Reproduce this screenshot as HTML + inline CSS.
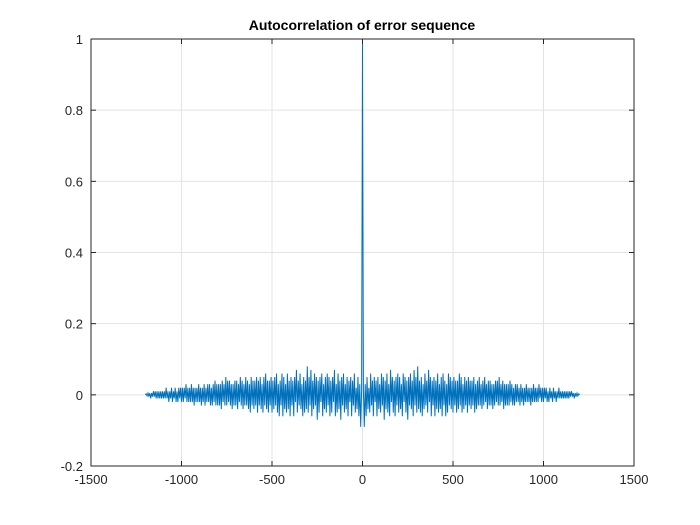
<!DOCTYPE html>
<html><head><meta charset="utf-8"><style>
body{margin:0;background:#fff;}
svg{display:block;font-family:"Liberation Sans",Arial,sans-serif;}
</style></head><body>
<svg id="chart" width="700" height="525">
<rect width="700" height="525" fill="#fff"/>
<g id="grid"></g>
<g id="series"></g>
<rect x="91" y="39" width="543" height="427" fill="none" stroke="#262626" stroke-width="1"/>
<g id="ticks"></g>
<text x="362" y="30" text-anchor="middle" font-size="14" font-weight="bold" fill="#000">Autocorrelation of error sequence</text>
</svg>
<script>
const xTicks=[-1500,-1000,-500,0,500,1000,1500];
const yTicks=[-0.2,0,0.2,0.4,0.6,0.8,1];
const yTickLabels=["-0.2","0","0.2","0.4","0.6","0.8","1"];
const lagStep=5;
const peakValue=1;
const halfValues=[
0.01,-0.09,0.03,-0.06,0.05,-0.04,0.02,-0.05,0.06,-0.03,
0.04,-0.06,0.05,-0.02,0.04,-0.06,0.05,-0.04,0.03,-0.05,
0.06,-0.03,0.05,-0.07,0.04,-0.04,0.06,-0.05,0.03,-0.06,
0.07,-0.02,0.05,-0.05,0.04,-0.06,0.05,-0.03,0.06,-0.05,
0.05,-0.04,0.03,-0.06,0.06,-0.02,0.05,-0.05,0.04,-0.07,
0.05,-0.03,0.06,-0.04,0.04,-0.06,0.07,-0.03,0.05,-0.05,
0.08,-0.04,0.04,-0.05,0.05,-0.06,0.03,-0.04,0.06,-0.03,
0.04,-0.05,0.07,-0.02,0.05,-0.06,0.04,-0.03,0.05,-0.06,
0.04,-0.04,0.06,-0.05,0.03,-0.04,0.05,-0.06,0.06,-0.03,
0.04,-0.06,0.03,-0.05,0.06,-0.03,0.05,-0.04,0.04,-0.05,
0.05,-0.03,0.04,-0.05,0.04,-0.04,0.06,-0.03,0.05,-0.05,
0.03,-0.04,0.05,-0.03,0.04,-0.05,0.05,-0.03,0.04,-0.04,
0.04,-0.03,0.05,-0.05,0.03,-0.04,0.04,-0.03,0.05,-0.03,
0.03,-0.04,0.04,-0.03,0.05,-0.02,0.03,-0.04,0.04,-0.03,
0.04,-0.03,0.03,-0.04,0.03,-0.03,0.04,-0.02,0.04,-0.03,
0.05,-0.03,0.03,-0.02,0.04,-0.04,0.03,-0.03,0.03,-0.03,
0.03,-0.03,0.04,-0.02,0.03,-0.03,0.02,-0.03,0.03,-0.02,
0.03,-0.02,0.02,-0.03,0.03,-0.02,0.02,-0.03,0.02,-0.02,
0.03,-0.02,0.02,-0.02,0.02,-0.03,0.02,-0.02,0.03,-0.02,
0.02,-0.02,0.02,-0.02,0.03,-0.01,0.02,-0.02,0.02,-0.02,
0.02,-0.01,0.02,-0.02,0.01,-0.02,0.02,-0.01,0.01,-0.02,
0.02,-0.01,0.01,-0.02,0.01,-0.01,0.02,-0.01,0.01,-0.01,
0.01,-0.01,0.01,-0.01,0.01,-0.01,0.01,-0.01,0.01,-0.005,
0.01,-0.005,0.005,-0.01,0.005,-0.005,0.005,-0.003,0.003,0];
const NS="http://www.w3.org/2000/svg";
const L=91,R=634,T=39,B=466;
const xs=v=>L+(v+1500)/3000*(R-L);
const ys=v=>B-(v+0.2)/1.2*(B-T);
const grid=document.getElementById('grid'),ticks=document.getElementById('ticks');
function mk(tag,attrs,parent){const e=document.createElementNS(NS,tag);for(const k in attrs)e.setAttribute(k,attrs[k]);parent.appendChild(e);return e;}
xTicks.forEach(v=>{
 const x=xs(v);
 const g=mk('line',{x1:x,x2:x,y1:T,y2:B,stroke:'#e3e3e3'},grid);
 
 
 mk('line',{x1:x,x2:x,y1:B,y2:B-5,stroke:'#262626'},ticks);
 mk('line',{x1:x,x2:x,y1:T,y2:T+5,stroke:'#262626'},ticks);
 const t=mk('text',{x:x,y:B+18,'text-anchor':'middle','font-size':13,fill:'#262626'},ticks);
 t.textContent=String(v);
 
 
});
yTicks.forEach((v,i)=>{
 const y=ys(v);
 const g=mk('line',{x1:L,x2:R,y1:y,y2:y,stroke:'#e3e3e3'},grid);
 
 
 mk('line',{x1:L,x2:L+5,y1:y,y2:y,stroke:'#262626'},ticks);
 mk('line',{x1:R,x2:R-5,y1:y,y2:y,stroke:'#262626'},ticks);
 const t=mk('text',{x:L-8,y:y+5,'text-anchor':'end','font-size':13,fill:'#262626'},ticks);
 t.textContent=yTickLabels[i];
 
 
});
const n=halfValues.length;
const pts=[];
for(let i=n-1;i>=0;i--)pts.push([-(i+1)*lagStep,halfValues[i]]);
pts.push([0,peakValue]);
for(let i=0;i<n;i++)pts.push([(i+1)*lagStep,halfValues[i]]);
const d=pts.map((p,i)=>(i?'L':'M')+xs(p[0]).toFixed(2)+' '+ys(p[1]).toFixed(2)).join('');
const path=mk('path',{d:d,fill:'none',stroke:'#0072BD','stroke-width':1},document.getElementById('series'));


</script>
</body></html>
